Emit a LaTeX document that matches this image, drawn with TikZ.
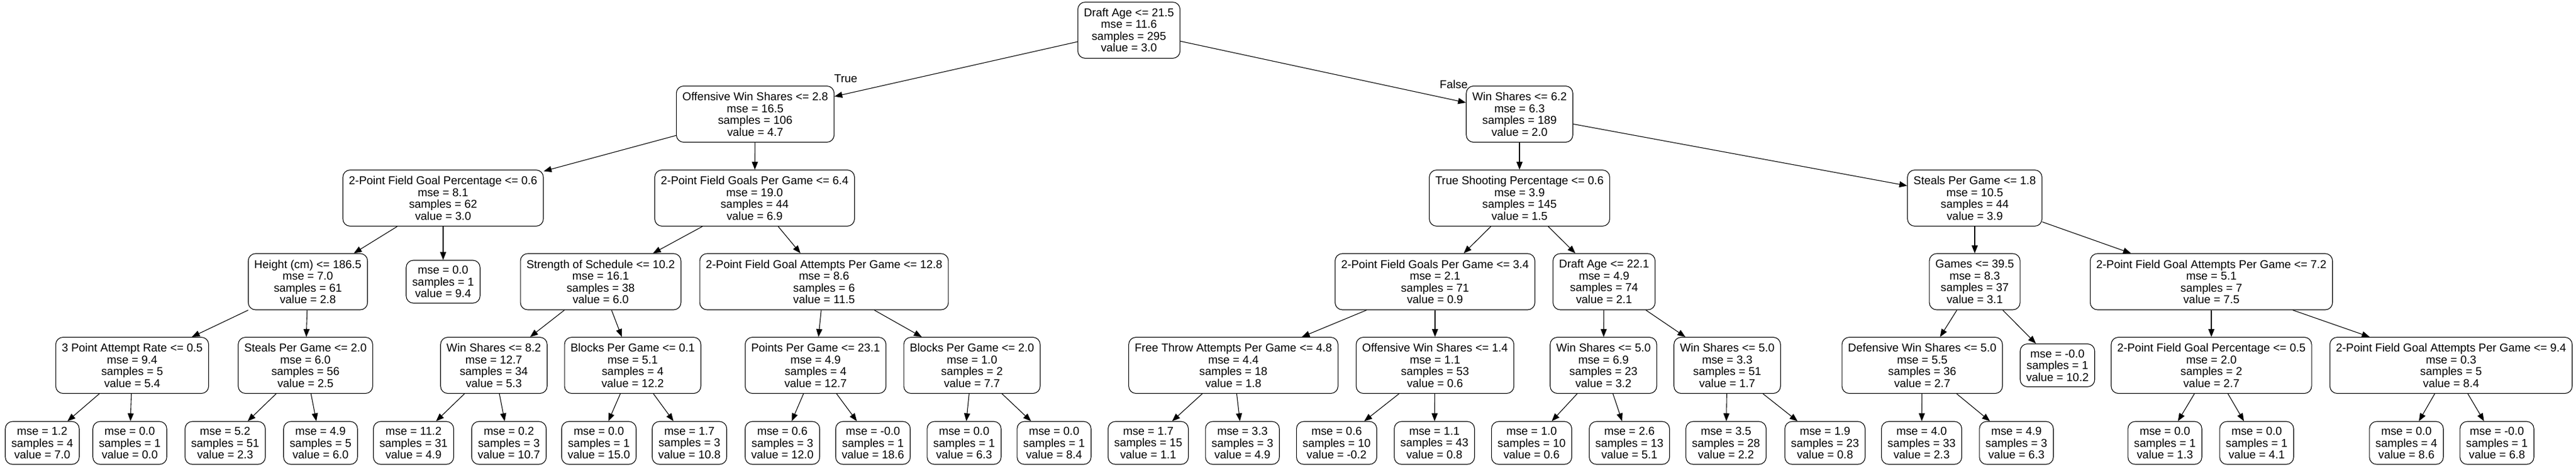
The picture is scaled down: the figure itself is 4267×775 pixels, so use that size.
\documentclass[tikz,border=0pt]{standalone}
\usepackage{fontspec}
\setmainfont{Liberation Sans}
\usetikzlibrary{arrows.meta}

\begin{document}
\begin{tikzpicture}[x=1pt, y=-1pt]

% node styles
\tikzset{
  splitbox/.style={draw=black, line width=1.1pt, rounded corners=12pt, fill=white, align=center,
    inner xsep=10pt, inner ysep=0pt, minimum height=93pt, font=\fontsize{18.9}{19.5}\selectfont},
  leafbox/.style={splitbox, minimum height=71pt},
  link/.style={line width=1.1pt, -{Triangle[length=13pt, width=10pt]}},
  branch/.style={font=\fontsize{18.9}{19.5}\selectfont, inner sep=0pt}
}

\useasboundingbox (0,0) rectangle (4267,775);

% ===== split nodes =====
\foreach \name/\x/\y/\cond/\m/\s/\v in {
  n0/1870/50/Draft Age <= 21.5/11.6/295/3.0,
  n1/1251/189/Offensive Win Shares <= 2.8/16.5/106/4.7,
  n2/734/328/2-Point Field Goal Percentage <= 0.6/8.1/62/3.0,
  n3/510/466.5/Height (cm) <= 186.5/7.0/61/2.8,
  n4/219/605/3 Point Attempt Rate <= 0.5/9.4/5/5.4,
  n7/506/605/Steals Per Game <= 2.0/6.0/56/2.5,
  n11/1250/328/2-Point Field Goals Per Game <= 6.4/19.0/44/6.9,
  n12/995/466.5/Strength of Schedule <= 10.2/16.1/38/6.0,
  n13/818/605/Win Shares <= 8.2/12.7/34/5.3,
  n16/1048/605/Blocks Per Game <= 0.1/5.1/4/12.2,
  n19/1365/466.5/2-Point Field Goal Attempts Per Game <= 12.8/8.6/6/11.5,
  n20/1351/605/Points Per Game <= 23.1/4.9/4/12.7,
  n23/1610/605/Blocks Per Game <= 2.0/1.0/2/7.7,
  n26/2517/189/Win Shares <= 6.2/6.3/189/2.0,
  n27/2517/328/True Shooting Percentage <= 0.6/3.9/145/1.5,
  n28/2377/466.5/2-Point Field Goals Per Game <= 3.4/2.1/71/0.9,
  n29/2043/605/Free Throw Attempts Per Game <= 4.8/4.4/18/1.8,
  n32/2377/605/Offensive Win Shares <= 1.4/1.1/53/0.6,
  n35/2657/466.5/Draft Age <= 22.1/4.9/74/2.1,
  n36/2656/605/Win Shares <= 5.0/6.9/23/3.2,
  n39/2861/605/Win Shares <= 5.0/3.3/51/1.7,
  n42/3271/328/Steals Per Game <= 1.8/10.5/44/3.9,
  n43/3271/466.5/Games <= 39.5/8.3/37/3.1,
  n44/3184/605/Defensive Win Shares <= 5.0/5.5/36/2.7,
  n48/3663/466.5/2-Point Field Goal Attempts Per Game <= 7.2/5.1/7/7.5,
  n49/3663/605/2-Point Field Goal Percentage <= 0.5/2.0/2/2.7,
  n52/4060/605/2-Point Field Goal Attempts Per Game <= 9.4/0.3/5/8.4%
} {
  \node[splitbox] (\name) at (\x,\y) {\cond\\mse = \m\\samples = \s\\value = \v};
}

% ===== leaves =====
\foreach \name/\x/\y/\m/\s/\v in {
  n5/70/733.5/1.2/4/7.0, n6/215/733.5/0.0/1/0.0,
  n8/373/733.5/5.2/51/2.3, n9/531/733.5/4.9/5/6.0,
  n10/734/466.5/0.0/1/9.4,
  n14/685/733.5/11.2/31/4.9, n15/843/733.5/0.2/3/10.7,
  n17/992/733.5/0.0/1/15.0, n18/1142/733.5/1.7/3/10.8,
  n21/1296/733.5/0.6/3/12.0, n22/1446/733.5/-0.0/1/18.6,
  n24/1597/733.5/0.0/1/6.3, n25/1746/733.5/0.0/1/8.4,
  n30/1902/733.5/1.7/15/1.1, n31/2058/733.5/3.3/3/4.9,
  n33/2214/733.5/0.6/10/-0.2, n34/2376/733.5/1.1/43/0.8,
  n37/2537/733.5/1.0/10/0.6, n38/2699/733.5/2.6/13/5.1,
  n40/2859/733.5/3.5/28/2.2, n41/3023/733.5/1.9/23/0.8,
  n45/3183/733.5/4.0/33/2.3, n46/3340/733.5/4.9/3/6.3,
  n47/3408/605/-0.0/1/10.2,
  n50/3586/733.5/0.0/1/1.3, n51/3738/733.5/0.0/1/4.1,
  n53/3986/733.5/0.0/4/8.6, n54/4136/733.5/-0.0/1/6.8%
} {
  \node[leafbox] (\name) at (\x,\y) {mse = \m\\samples = \s\\value = \v};
}

% ===== edges =====
\foreach \a/\b in {
  n0/n1, n0/n26, n1/n2, n1/n11, n2/n3, n2/n10, n3/n4, n3/n7,
  n4/n5, n4/n6, n7/n8, n7/n9, n11/n12, n11/n19, n12/n13, n12/n16,
  n13/n14, n13/n15, n16/n17, n16/n18, n19/n20, n19/n23,
  n20/n21, n20/n22, n23/n24, n23/n25,
  n26/n27, n26/n42, n27/n28, n27/n35, n28/n29, n28/n32,
  n29/n30, n29/n31, n32/n33, n32/n34, n35/n36, n35/n39,
  n36/n37, n36/n38, n39/n40, n39/n41, n42/n43, n42/n48,
  n43/n44, n43/n47, n44/n45, n44/n46, n48/n49, n48/n52,
  n49/n50, n49/n51, n52/n53, n52/n54%
} {
  \draw[link] (\a) -- (\b);
}

% branch labels
\node[branch] (truelbl) at (1401,130) {True};
\node[branch] (falselbl) at (2408,140) {False};

\end{tikzpicture}
\end{document}
